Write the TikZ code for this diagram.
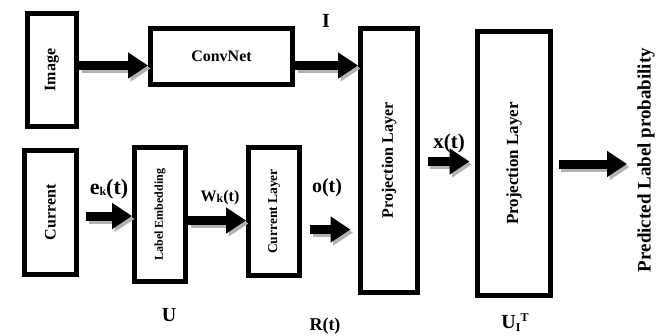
\documentclass[tikz,border=0pt]{standalone}
\usepackage{fontspec}
\setmainfont{Liberation Serif}
\usetikzlibrary{arrows.meta}
\newcommand{\sm}[2]{\raisebox{#1}{\fontsize{12}{12}\selectfont #2}}

\begin{document}
\begin{tikzpicture}[x=1pt,y=-1pt,
  blk/.style={draw, line width=5pt, inner sep=0pt, font=\bfseries\fontsize{16}{16}\selectfont},
  fat/.style={line width=9pt, -{Triangle[length=20pt,width=25pt]}},
  lbl/.style={font=\bfseries\fontsize{20}{20}\selectfont}]
\useasboundingbox (0,0) rectangle (666,335);
% blocks
\node[blk, minimum width=49pt, minimum height=113pt] (img) at (52,70) {\rotatebox{90}{Image}};
\node[blk, minimum width=142pt, minimum height=56pt] (cnn) at (221.5,56.5) {ConvNet};
\node[blk, minimum width=52pt, minimum height=124pt] (cur) at (50.5,212.5) {\rotatebox{90}{Current}};
\node[blk, minimum width=51pt, minimum height=134pt, font=\bfseries\fontsize{12}{12}\selectfont] (emb) at (160,214.5) {\rotatebox{90}{Label Embedding}};
\node[blk, minimum width=51pt, minimum height=128pt, font=\bfseries\fontsize{13.5}{13.5}\selectfont] (curl) at (274,211.5) {\rotatebox{90}{Current Layer}};
\node[blk, minimum width=57pt, minimum height=264pt] (proj1) at (389,160.5) {\rotatebox{90}{Projection Layer}};
\node[blk, minimum width=73pt, minimum height=264pt, font=\bfseries\fontsize{17}{17}\selectfont] (proj2) at (514,163.5) {\rotatebox{90}{Projection Layer}};
\node[lbl, font=\bfseries\fontsize{19}{19}\selectfont, rotate=90] (pred) at (646,160) {Predicted Label probability};
\coordinate (out) at (627,164);
% connectors, shadow first
\foreach \col/\dx/\dy in {gray!60/2.5/-3, black/0/0}{
\begin{scope}[transform canvas={shift={(\dx pt,\dy pt)}}, draw=\col]
\draw[fat] ([yshift=4.5pt]img.east) -- ([yshift=4.5pt]img.east -| cnn.west);
\draw[fat] ([yshift=-9pt]cnn.east) -- ([yshift=-9pt]cnn.east -| proj1.west);
\draw[fat, shorten <=7pt] ([yshift=-3.5pt]cur.east) -- ([yshift=-3.5pt]cur.east -| emb.west);
\draw[fat] ([yshift=-6pt]emb.east) -- ([yshift=-6pt]emb.east -| curl.west);
\draw[fat, shorten <=8pt, shorten >=7.5pt] ([yshift=-18pt]curl.east) -- ([yshift=-18pt]curl.east -| proj1.west);
\draw[fat, shorten <=7.5pt, shorten >=5.5pt] ([yshift=-1pt]proj1.east) -- ([yshift=-1pt]proj1.east -| proj2.west);
\draw[fat, shorten <=5.5pt] ([yshift=-0.5pt]proj2.east) -- (out);
\end{scope}}
% labels
\node[lbl] (lI) at (326,21) {I};
\node[lbl, font=\bfseries\fontsize{22}{22}\selectfont] (lek) at (109,189) {e\sm{-1pt}{k}(t)};
\node[lbl, font=\bfseries\fontsize{16}{16}\selectfont] (lwk) at (220,198) {W\sm{-1pt}{k}(t)};
\node[lbl] (lot) at (327,188) {o(t)};
\node[lbl, font=\bfseries\fontsize{21}{21}\selectfont] (lxt) at (449,143) {x(t)};
\node[lbl] (lU) at (169,315) {U};
\node[lbl, font=\bfseries\fontsize{18}{18}\selectfont] (lRt) at (325,326) {R(t)};
\node[lbl] (lUT) at (515,323) {U\sm{-3pt}{I}\sm{7pt}{T}};
\end{tikzpicture}
\end{document}
